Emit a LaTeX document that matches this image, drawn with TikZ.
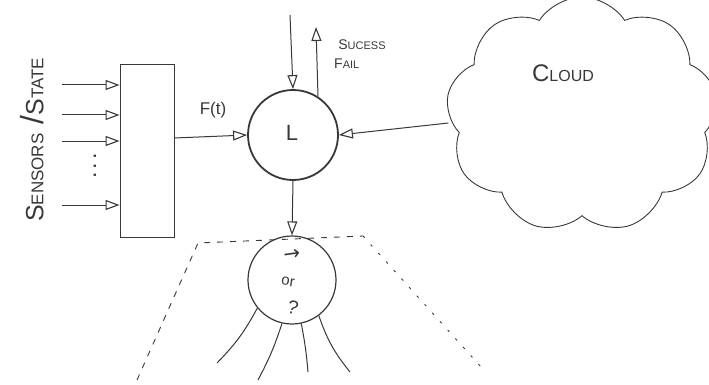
\documentclass[tikz,border=0pt]{standalone}
\usepackage{fontspec}
\setmainfont{Liberation Sans}
\newfontfamily\symfont{DejaVu Sans}
\usetikzlibrary{arrows.meta,shapes.symbols}
\newcommand\bigsmall[4]{{\fontsize{#1pt}{#1pt}\selectfont #3}{\fontsize{#2pt}{#2pt}\selectfont #4}}
\definecolor{pencil}{gray}{0.22}
\tikzset{
  pen/.style={draw=pencil, line width=1pt},
  arr/.style={pen, -{Triangle[open, length=14pt, width=10pt, line width=1.1pt]}},
  txt/.style={text=pencil, inner sep=0pt},
  bigcirc/.style={circle, draw=pencil, line width=1.8pt, inner sep=0pt},
  dashA/.style={draw=pencil, line width=0.9pt, dash pattern=on 6pt off 7pt},
  dashB/.style={draw=pencil, line width=0.9pt, dash pattern=on 2.5pt off 9pt},
}
\begin{document}
\begin{tikzpicture}[x=1pt, y=-1pt]
\useasboundingbox (0,0) rectangle (709,385);
% rotated label
\node[txt, rotate=90] (sens) at (32,140) {\bigsmall{25}{17}{S}{ENSORS}\hspace{9pt}{\fontsize{32pt}{32pt}\selectfont /}\bigsmall{25}{17}{S}{TATE}};
% box
\node[pen, rectangle, minimum width=54pt, minimum height=172pt, inner sep=0pt] (box) at (147,151) {};
% input arrows
\coordinate (s1) at (62,85);
\coordinate (s2) at (62,115);
\coordinate (s3) at (62,141);
\coordinate (s4) at (62,205);
\foreach \s in {s1,s2,s3,s4} \draw[arr] (\s) -- (\s -| box.west);
\node[txt, rotate=90, font=\fontsize{16pt}{16pt}\selectfont\bfseries] (dots) at (95,166) {.\hspace{5pt}.\hspace{5pt}.};
% L circle
\node[bigcirc, minimum size=90pt] (L) at (293,135) {};
\node[txt] (Ltext) at (292,133) {\fontsize{22pt}{22pt}\selectfont L};
\node[txt] (ft) at (213,110) {\fontsize{17pt}{17pt}\selectfont F(t)};
\draw[arr] ([yshift=13pt]box.east) -- (L.west);
% top arrows
\coordinate (top) at (290,15);
\draw[arr] (top) -- (L.north);
\coordinate (up) at (316,27);
\draw[arr] (L.57) -- (up);
\node[txt] (succ) at (362,45) {\bigsmall{14}{11}{S}{UCESS}};
\node[txt, anchor=west] (fail) at (334,64) {\bigsmall{14}{11}{F}{AIL}};
% cloud
\node[cloud, draw=pencil, line width=0.9pt, cloud puffs=9, cloud puff arc=115, aspect=1.15, minimum width=272pt, minimum height=236pt, inner sep=0pt] (cloud) at (582,115) {};
\node[txt] (cloudtxt) at (563,73) {\bigsmall{24}{16}{C}{LOUD}};
\draw[arr] ([yshift=-8pt]cloud.west) -- (L.east);
% lower circle
\node[circle, draw=pencil, line width=1.2pt, inner sep=0pt, minimum size=88pt] (Q) at (292,280) {};
\draw[arr] (L.south) -- (Q.north);
\node[txt, rotate=8] (qa) at (292,255) {\symfont\fontsize{20pt}{20pt}\selectfont →};
\node[txt, rotate=-8] (qor) at (288,282) {\fontsize{15pt}{15pt}\selectfont or};
\node[txt, rotate=-15] (qq) at (293,307) {\fontsize{19pt}{19pt}\selectfont ?};
% legs
\coordinate (e1) at (217,363);
\coordinate (e2) at (258,380);
\coordinate (e3) at (308,372);
\coordinate (e4) at (350,372);
\draw[pen] (Q.219) to[bend left=8] (e1);
\draw[pen] (Q.257) to[bend left=5] (e2);
\draw[pen] (Q.282) to[bend left=3] (e3);
\draw[pen] (Q.307) to[bend right=10] (e4);
% dashed region
\coordinate (d1) at (137,380);
\coordinate (d2) at (198,243);
\coordinate (d3) at (363,236);
\coordinate (d4) at (482,368);
\draw[dashA] (d1) -- (d2) -- (d3);
\draw[dashB] (d3) -- (d4);
\end{tikzpicture}
\end{document}
